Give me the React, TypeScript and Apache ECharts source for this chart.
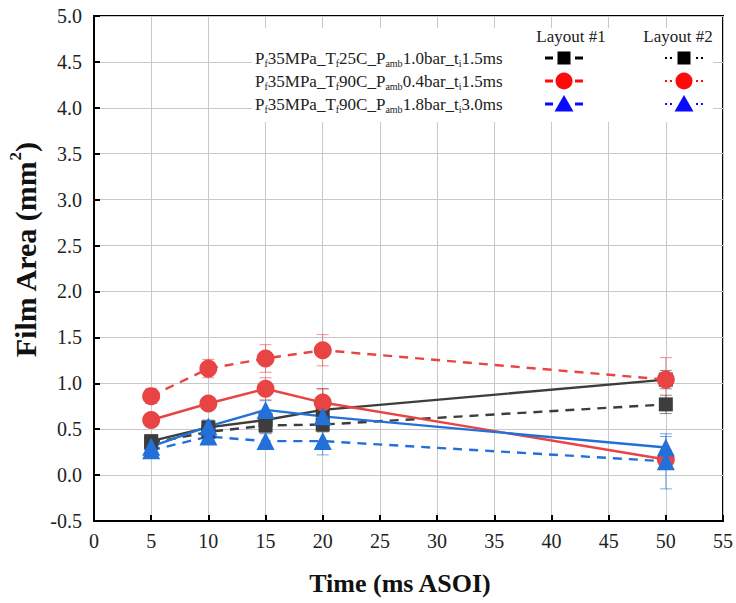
import React, { useEffect, useRef } from "react";
import * as echarts from "echarts";

const xTimes = [5, 10, 15, 20, 50];

const blackL1 = [0.37, 0.52, 0.6, 0.71, 1.04];
const blackL2 = [0.35, 0.47, 0.54, 0.55, 0.77];
const redL1 = [0.6, 0.78, 0.94, 0.79, 0.17];
const redL2 = [0.86, 1.16, 1.27, 1.36, 1.04];
const blueL1 = [0.31, 0.53, 0.71, 0.64, 0.3];
const blueL2 = [0.27, 0.42, 0.37, 0.37, 0.15];

const blackL1Err = [0.05, 0.05, 0.08, 0.23, 0.1];
const blackL2Err = [0.05, 0.06, 0.08, 0.08, 0.1];
const redL1Err = [0.07, 0.05, 0.12, 0.15, 0.1];
const redL2Err = [0.08, 0.1, 0.15, 0.17, 0.24];
const blueL1Err = [0.05, 0.07, 0.1, 0.1, 0.12];
const blueL2Err = [0.05, 0.05, 0.08, 0.15, 0.3];

const legendLabels = [
  ["P", "f", "35MPa_T", "f", "25C_P", "amb", "1.0bar_t", "i", "1.5ms"],
  ["P", "f", "35MPa_T", "f", "90C_P", "amb", "0.4bar_t", "i", "1.5ms"],
  ["P", "f", "35MPa_T", "f", "90C_P", "amb", "1.8bar_t", "i", "3.0ms"],
];

const FONT = "'Liberation Serif', 'DejaVu Serif', serif";
const DARK = "#3d3d3d";
const RED = "#e94444";
const BLUE = "#2270d8";

function richLabel(parts: string[]) {
  return parts.map((p, i) => (i % 2 === 0 ? `{n|${p}}` : `{s|${p}}`)).join("");
}

export default function App() {
  const ref = useRef<HTMLDivElement>(null);
  useEffect(() => {
    if (!ref.current) return;
    const chart = echarts.init(ref.current, undefined, { renderer: "svg" });

    const lineSeries = (
      name: string,
      vals: number[],
      color: string,
      symbol: string,
      size: number,
      dashed: boolean
    ) => ({
      name,
      type: "line",
      data: xTimes.map((x, i) => [x, vals[i]]),
      symbol,
      symbolSize: size,
      lineStyle: { color, width: 2.4, type: dashed ? [9, 7] : "solid" },
      itemStyle: { color, opacity: 1 },
      z: 5,
      animation: false,
    });

    const errSeries = (vals: number[], errs: number[], color: string) => ({
      type: "custom",
      data: xTimes.map((x, i) => [x, vals[i] - errs[i], vals[i] + errs[i]]),
      renderItem: (params: any, api: any) => {
        const x = api.value(0);
        const lo = api.coord([x, api.value(1)]);
        const hi = api.coord([x, api.value(2)]);
        const w = 6;
        const style = { stroke: color, lineWidth: 1, opacity: 0.6 };
        return {
          type: "group",
          children: [
            { type: "line", shape: { x1: lo[0], y1: lo[1], x2: hi[0], y2: hi[1] }, style },
            { type: "line", shape: { x1: lo[0] - w, y1: lo[1], x2: lo[0] + w, y2: lo[1] }, style },
            { type: "line", shape: { x1: hi[0] - w, y1: hi[1], x2: hi[0] + w, y2: hi[1] }, style },
          ],
        };
      },
      z: 3,
      silent: true,
      animation: false,
    });

    // legend graphics
    const rowY = [58, 81, 104];
    const legendColors = ["#000000", "#ff0a0a", "#0a0aff"];
    const col1 = 564;
    const col2 = 684;
    const legendGraphics: any[] = [
      { type: "rect", shape: { x: 252, y: 28, width: 461, height: 94 }, style: { fill: "#ffffff" }, z: 10 },
      { type: "text", x: 571, y: 36, style: { text: "Layout #1", font: `17px ${FONT}`, fill: "#222", align: "center", verticalAlign: "middle" }, z: 11 },
      { type: "text", x: 678, y: 36, style: { text: "Layout #2", font: `17px ${FONT}`, fill: "#222", align: "center", verticalAlign: "middle" }, z: 11 },
    ];
    const marker = (shapeIdx: number, cx: number, cy: number, color: string) => {
      if (shapeIdx === 0)
        return { type: "rect", shape: { x: cx - 6.5, y: cy - 6.5, width: 13, height: 13 }, style: { fill: color }, z: 12 };
      if (shapeIdx === 1)
        return { type: "circle", shape: { cx, cy, r: 8.5 }, style: { fill: color }, z: 12 };
      return {
        type: "polygon",
        shape: { points: [[cx, cy - 9], [cx + 9.5, cy + 7.5], [cx - 9.5, cy + 7.5]] },
        style: { fill: color },
        z: 12,
      };
    };
    rowY.forEach((y, r) => {
      const c = legendColors[r];
      legendGraphics.push({
        type: "text",
        x: 255,
        y,
        style: {
          text: richLabel(legendLabels[r]),
          verticalAlign: "middle",
          align: "left",
          rich: {
            n: { fontFamily: FONT, fontSize: 17, fill: "#222", lineHeight: 21 },
            s: { fontFamily: FONT, fontSize: 10, fill: "#222", lineHeight: 10, verticalAlign: "bottom" },
          },
        },
        z: 11,
      });
      // Layout #1: dashed
      legendGraphics.push(
        { type: "line", shape: { x1: col1 - 19, y1: y, x2: col1 - 11, y2: y }, style: { stroke: c, lineWidth: 3 }, z: 12 },
        { type: "line", shape: { x1: col1 + 11, y1: y, x2: col1 + 19, y2: y }, style: { stroke: c, lineWidth: 3 }, z: 12 },
        marker(r, col1, y, c)
      );
      // Layout #2: dotted
      legendGraphics.push(
        { type: "line", shape: { x1: col2 - 19, y1: y, x2: col2 - 11, y2: y }, style: { stroke: c, lineWidth: 2, lineDash: [2, 3] }, z: 12 },
        { type: "line", shape: { x1: col2 + 12, y1: y, x2: col2 + 20, y2: y }, style: { stroke: c, lineWidth: 2, lineDash: [2, 3] }, z: 12 },
        marker(r, col2, y, c)
      );
    });

    const option: any = {
      animation: false,
      backgroundColor: "#ffffff",
      grid: {
        left: 94,
        right: 13,
        top: 16,
        bottom: 82,
        show: true,
        borderColor: "#000",
        borderWidth: 2,
        backgroundColor: "transparent",
      },
      xAxis: {
        type: "value",
        min: 0,
        max: 55,
        interval: 5,
        axisLine: { show: true, onZero: false, lineStyle: { color: "#000", width: 2 } },
        axisTick: { show: true, inside: true, length: 6, lineStyle: { color: "#000", width: 2 } },
        axisLabel: { color: "#222", fontFamily: FONT, fontSize: 20, margin: 10 },
        splitLine: { show: true, lineStyle: { color: "#c8c8c8", width: 1 } },
      },
      yAxis: {
        type: "value",
        min: -0.5,
        max: 5,
        interval: 0.5,
        axisLine: { show: true, onZero: false, lineStyle: { color: "#000", width: 2 } },
        axisTick: { show: true, inside: true, length: 6, lineStyle: { color: "#000", width: 2 } },
        axisLabel: {
          color: "#222",
          fontFamily: FONT,
          fontSize: 20,
          margin: 12,
          formatter: (v: number) => v.toFixed(1),
        },
        splitLine: { show: true, lineStyle: { color: "#c8c8c8", width: 1 } },
      },
      graphic: [
        {
          type: "text",
          x: 25,
          y: 250,
          rotation: Math.PI / 2,
          style: {
            text: "{b|Film Area (mm}{p|2}{b|)}",
            align: "center",
            verticalAlign: "middle",
            rich: {
              b: { fontFamily: FONT, fontSize: 30, fontWeight: "bold", fill: "#111", lineHeight: 36 },
              p: { fontFamily: FONT, fontSize: 17, fontWeight: "bold", fill: "#111", lineHeight: 17, verticalAlign: "top" },
            },
          },
        },
        {
          type: "text",
          x: 400,
          y: 583,
          style: {
            text: "Time (ms ASOI)",
            font: `bold 26px ${FONT}`,
            fill: "#111",
            align: "center",
            verticalAlign: "middle",
          },
        },
        ...legendGraphics,
      ],
      series: [
        errSeries(blackL1, blackL1Err, DARK),
        errSeries(blackL2, blackL2Err, DARK),
        errSeries(redL1, redL1Err, RED),
        errSeries(redL2, redL2Err, RED),
        errSeries(blueL1, blueL1Err, BLUE),
        errSeries(blueL2, blueL2Err, BLUE),
        lineSeries("Black L1", blackL1, DARK, "rect", 14, false),
        lineSeries("Black L2", blackL2, DARK, "rect", 14, true),
        lineSeries("Red L1", redL1, RED, "circle", 18, false),
        lineSeries("Red L2", redL2, RED, "circle", 18, true),
        lineSeries("Blue L1", blueL1, BLUE, "triangle", 18, false),
        lineSeries("Blue L2", blueL2, BLUE, "triangle", 18, true),
      ],
    };
    chart.setOption(option);
    return () => chart.dispose();
  }, []);

  return (
    <div
      ref={ref}
      style={{ width: 736, height: 603, position: "absolute", left: 0, top: 0 }}
    />
  );
}
